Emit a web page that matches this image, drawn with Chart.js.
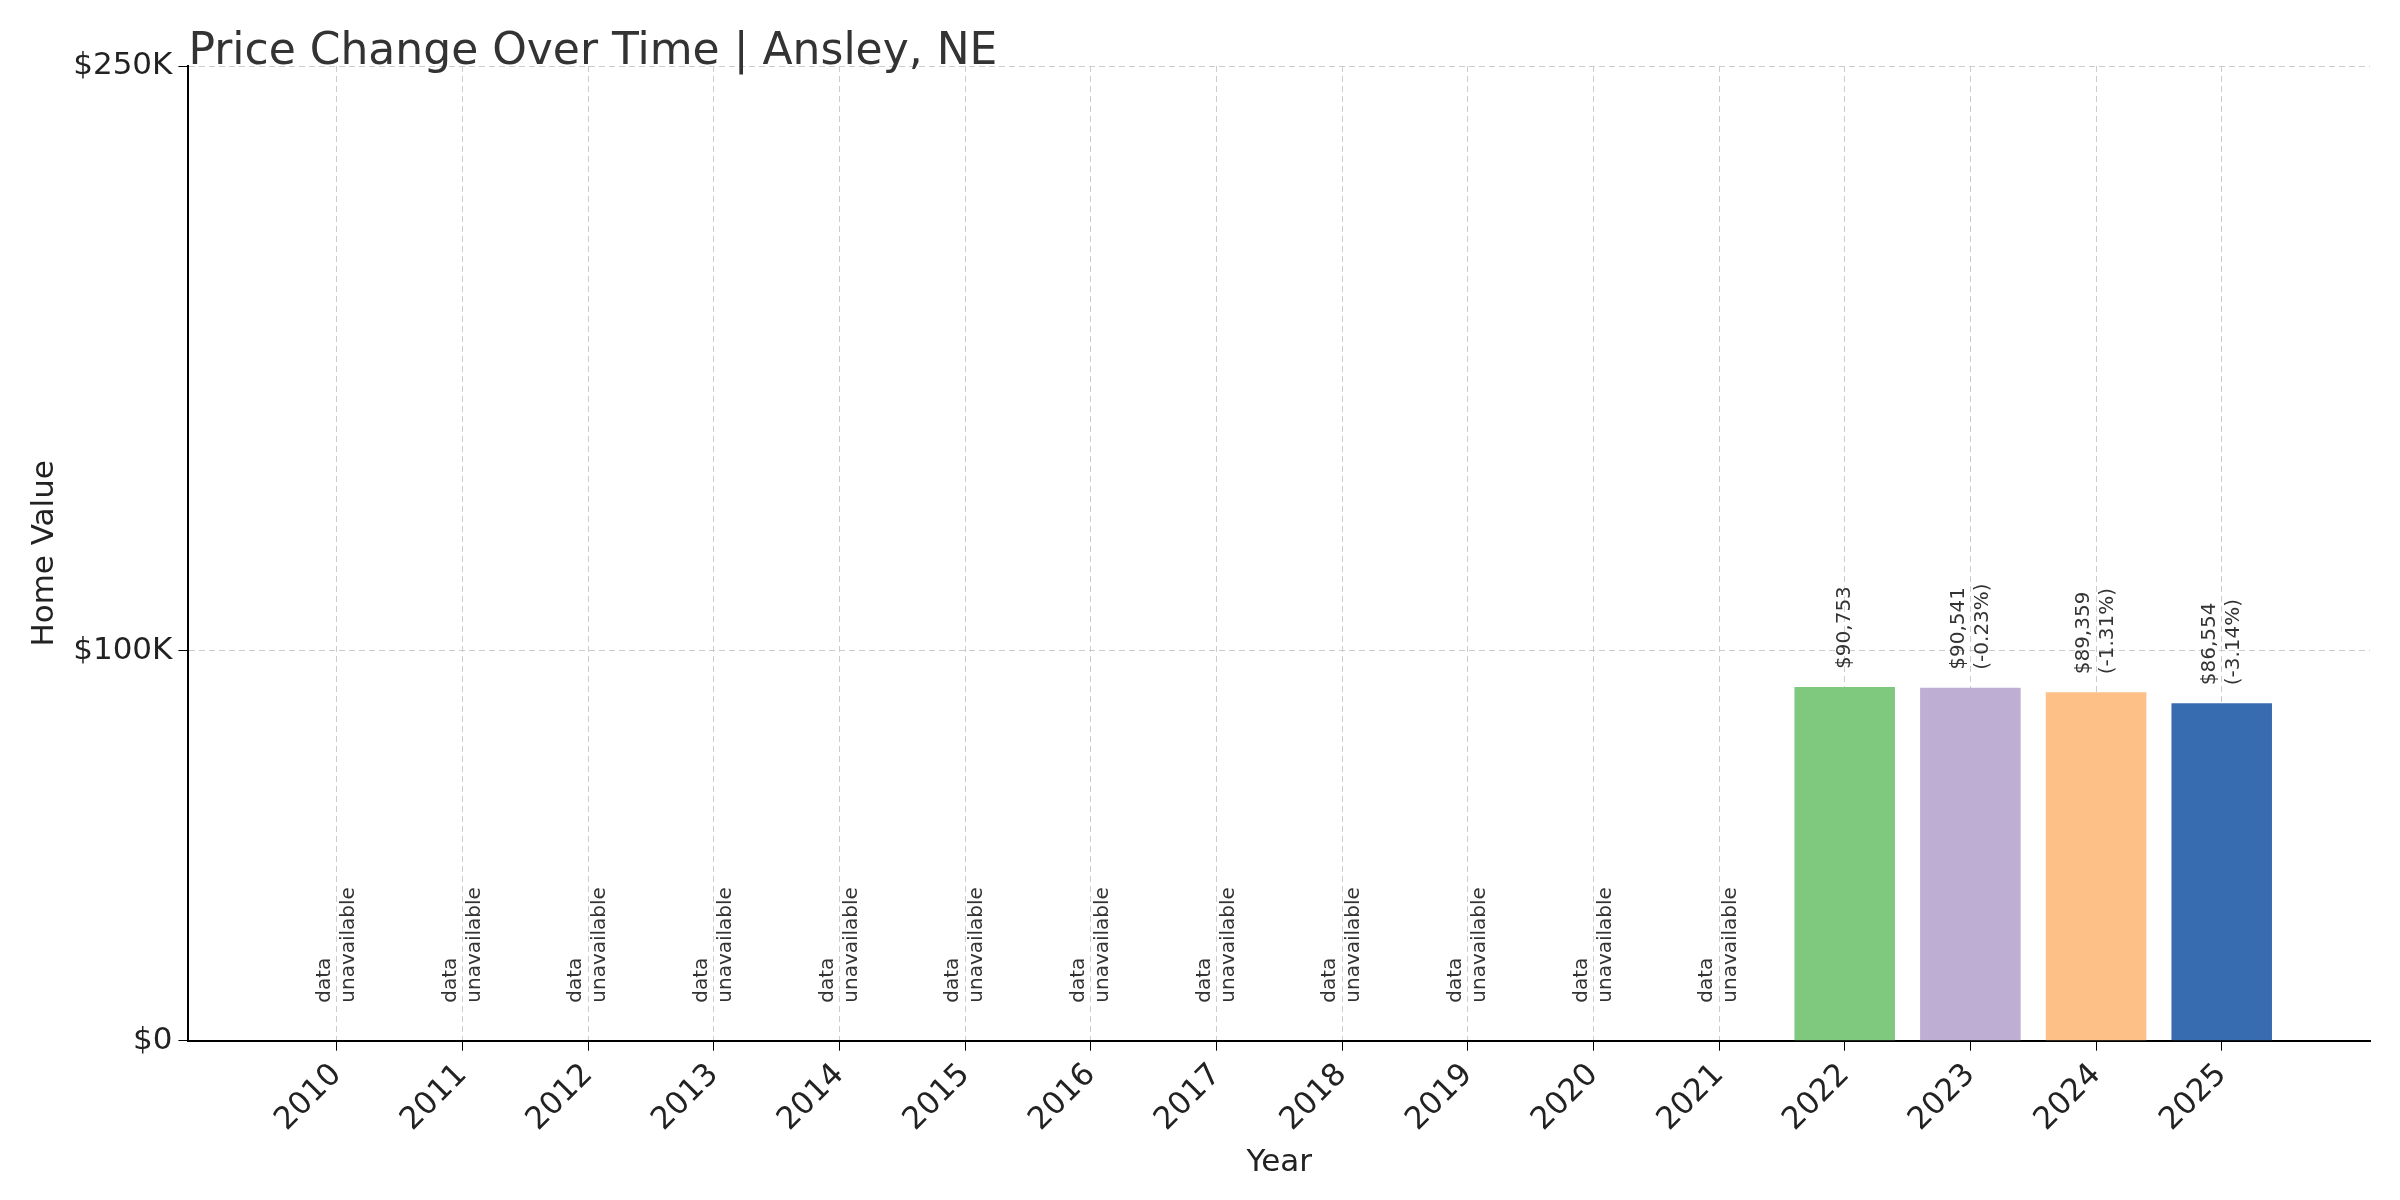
<!DOCTYPE html>
<html><head><meta charset="utf-8">
<script src="https://cdn.jsdelivr.net/npm/chart.js@4"></script>
<style>html,body{margin:0;background:#fff}#w{width:2400px;height:1200px}</style></head>
<body><div id="w"><canvas id="c" width="2400" height="1200"></canvas></div>
<script>
const years=["2010","2011","2012","2013","2014","2015","2016","2017","2018","2019","2020","2021","2022","2023","2024","2025"];
const values=[null,null,null,null,null,null,null,null,null,null,null,null,90753,90541,89359,86554];
const changes=[null,null,null,null,null,null,null,null,null,null,null,null,null,"-0.23%","-1.31%","-3.14%"];
const yTicks=[0,100000,250000];
const barColors=["#7fc97f","#beaed4","#fdc086","#386cb0"];
const F="DejaVu Sans";
const pts=values.map((v,i)=>({x:i,y:v}));
const cols=values.map((v,i)=>i>=12?barColors[i-12]:"#000");
const labelPlugin={id:"lbl",afterDatasetsDraw(ch){
 const c=ch.ctx,xs=ch.scales.x,ys=ch.scales.y;
 c.save();c.fillStyle="#333";c.font="20px "+F;c.textBaseline="middle";
 values.forEach((v,i)=>{
  const x=xs.getPixelForValue(i);
  let lines,y0;
  if(v==null){lines=["data","unavailable"];y0=ys.getPixelForValue(0)-38;}
  else{lines=changes[i]?["$"+v.toLocaleString("en-US"),"("+changes[i]+")"]:["$"+v.toLocaleString("en-US")];y0=ys.getPixelForValue(v)-18;}
  c.save();c.translate(x,y0);c.rotate(-Math.PI/2);c.textAlign="left";
  const n=lines.length;
  lines.forEach((t,k)=>{c.fillText(t,0,(k-(n-1)/2)*24);});
  c.restore();
 });
 c.fillStyle="#333";c.font="44px "+F;c.textBaseline="alphabetic";c.textAlign="left";
 c.fillText("Price Change Over Time | Ansley, NE",ch.chartArea.left,64);
 c.restore();
}};
new Chart(document.getElementById("c"),{type:"bar",
 data:{datasets:[{data:pts,backgroundColor:cols,barPercentage:0.8,categoryPercentage:1}]},
 options:{responsive:false,animation:false,devicePixelRatio:1,
  layout:{padding:{left:22,right:30,top:66,bottom:14}},
  plugins:{legend:{display:false},tooltip:{enabled:false},title:{display:false}},
  scales:{
   x:{type:"linear",min:-1.18,max:16.18,offset:false,
    afterBuildTicks(s){s.ticks=years.map((y,i)=>({value:i}));},
    ticks:{callback:(v)=>years[v],maxRotation:45,minRotation:45,color:"#222",font:{family:F,size:31},padding:6},
    grid:{offset:false,color:"#ccc",tickColor:"#000",tickLength:10,drawTicks:true},
    border:{color:"#000",width:2,dash:[6,4]},
    title:{display:true,text:"Year",color:"#222",font:{family:F,size:31},padding:{top:0}}},
   y:{min:0,max:250000,
    afterBuildTicks(s){s.ticks=yTicks.map(v=>({value:v}));},
    ticks:{callback:v=>v==0?"$0":"$"+(v/1000)+"K",color:"#222",font:{family:F,size:31},padding:6},
    grid:{color:"#ccc",tickColor:"#000",tickLength:10},
    border:{color:"#000",width:2,dash:[6,4]},
    title:{display:true,text:"Home Value",color:"#222",font:{family:F,size:31}}}
  }},
 plugins:[labelPlugin]});
</script></body></html>
